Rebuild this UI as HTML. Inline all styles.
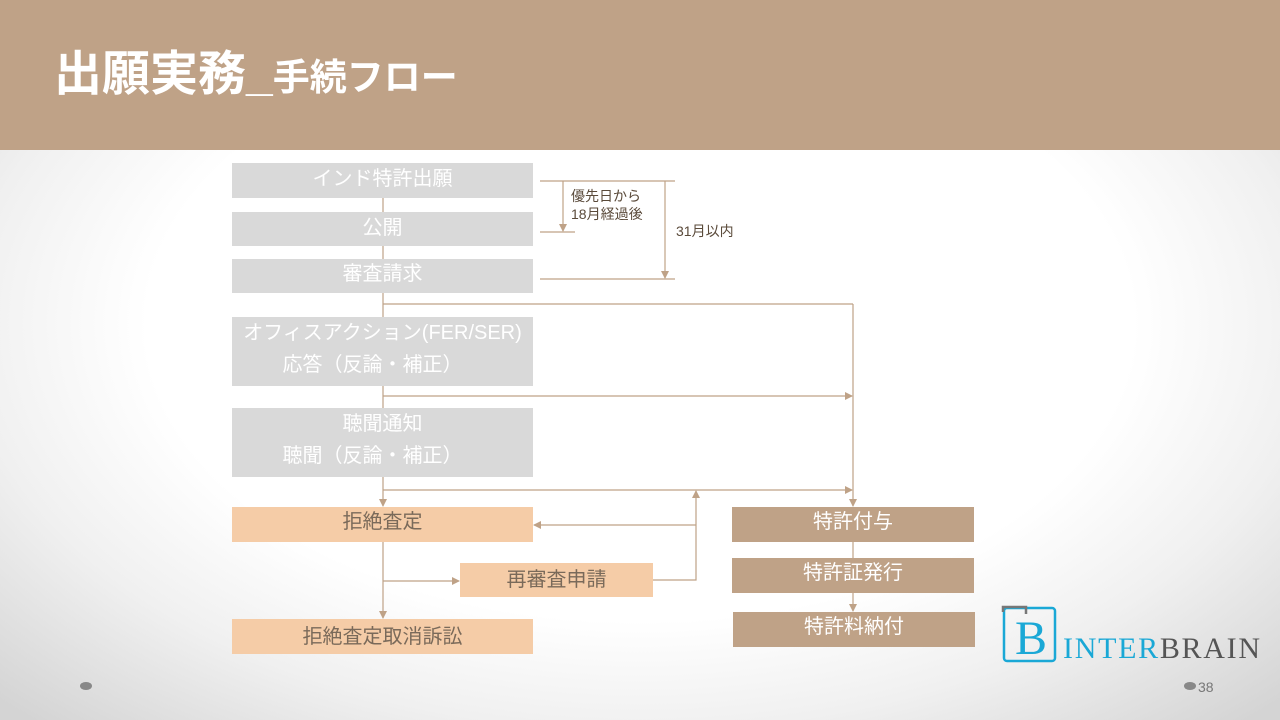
<!DOCTYPE html>
<html><head><meta charset="utf-8"><style>
body{margin:0;width:1280px;height:720px;overflow:hidden;position:relative;font-family:"Liberation Sans","Noto Sans CJK JP",sans-serif;
background:radial-gradient(ellipse 70% 75% at 50% 45%,#fff 55%,#f0f0f0 75%,#d4d4d4 100%);}
.hdr{position:absolute;left:0;top:0;width:1280px;height:150px;background:#bfa287;}
.t{position:absolute;left:54px;top:34px;color:#fff;font-weight:bold;font-size:48px;white-space:nowrap}
.t span{font-size:37px}
.b{position:absolute;display:flex;flex-direction:column;align-items:center;justify-content:center;font-size:20px;line-height:36px;color:#fff;text-align:center}
.g{background:#d9d9d9}.o{background:#f5cca7;color:#7a6a5a}.br{background:#bfa287;color:#fff}
.s{position:absolute;font-size:14px;color:#5a4a3a;line-height:18px}
</style></head><body>
<div class="hdr"></div>
<div class="t">出願実務_<span>手続フロー</span></div>
<div class="b g" style="left:232px;top:163px;width:301px;height:35px;line-height:32px;justify-content:flex-start">インド特許出願</div>
<div class="b g" style="left:232px;top:212px;width:301px;height:34px;justify-content:flex-start;line-height:32px">公開</div>
<div class="b g" style="left:232px;top:259px;width:301px;height:34px;justify-content:flex-start;line-height:30px">審査請求</div>
<div class="b g" style="left:232px;top:317px;width:301px;height:69px;justify-content:flex-start;line-height:32px"><div>オフィスアクション(FER/SER)</div><div style="margin-right:20px">応答（反論・補正）</div></div>
<div class="b g" style="left:232px;top:408px;width:301px;height:69px;justify-content:flex-start;line-height:32px"><div>聴聞通知</div><div style="margin-right:20px">聴聞（反論・補正）</div></div>
<div class="b o" style="left:232px;top:507px;width:301px;height:35px;justify-content:flex-start;line-height:30px">拒絶査定</div>
<div class="b o" style="left:460px;top:563px;width:193px;height:34px;line-height:30px">再審査申請</div>
<div class="b o" style="left:232px;top:619px;width:301px;height:35px;line-height:30px">拒絶査定取消訴訟</div>
<div class="b br" style="left:732px;top:507px;width:242px;height:35px;justify-content:flex-start;line-height:30px">特許付与</div>
<div class="b br" style="left:732px;top:558px;width:242px;height:35px;justify-content:flex-start;line-height:30px">特許証発行</div>
<div class="b br" style="left:733px;top:612px;width:242px;height:35px;justify-content:flex-start;line-height:30px">特許料納付</div>
<div class="s" style="left:571px;top:187px">優先日から<br>18月経過後</div>
<div class="s" style="left:676px;top:222px">31月以内</div>
<svg width="1280" height="720" style="position:absolute;left:0;top:0">
<defs><marker id="a" markerWidth="8" markerHeight="8" refX="7" refY="4" orient="auto" markerUnits="userSpaceOnUse"><path d="M0,0 L8,4 L0,8z" fill="#bfa287"/></marker></defs>
<g stroke="#bfa287" stroke-width="1.2" fill="none">
<line x1="383" y1="198" x2="383" y2="212"/><line x1="383" y1="246" x2="383" y2="259"/>
<line x1="383" y1="293" x2="383" y2="317"/><line x1="383" y1="386" x2="383" y2="408"/>
<line x1="383" y1="477" x2="383" y2="506" marker-end="url(#a)"/>
<line x1="383" y1="542" x2="383" y2="618" marker-end="url(#a)"/>
<line x1="383" y1="304" x2="853" y2="304"/>
<line x1="853" y1="304" x2="853" y2="506" marker-end="url(#a)"/>
<line x1="383" y1="396" x2="852" y2="396" marker-end="url(#a)"/>
<line x1="383" y1="490" x2="852" y2="490" marker-end="url(#a)"/>
<polyline points="653,580 696,580 696,491" marker-end="url(#a)"/>
<line x1="696" y1="525" x2="534" y2="525" marker-end="url(#a)"/>
<line x1="383" y1="581" x2="459" y2="581" marker-end="url(#a)"/>
<line x1="853" y1="542" x2="853" y2="558"/>
<line x1="853" y1="593" x2="853" y2="611" marker-end="url(#a)"/>
<line x1="540" y1="181" x2="675" y2="181"/><line x1="540" y1="232" x2="575" y2="232"/><line x1="540" y1="279" x2="675" y2="279"/>
<line x1="563" y1="181" x2="563" y2="231" marker-end="url(#a)"/>
<line x1="665" y1="181" x2="665" y2="278" marker-end="url(#a)"/>
</g>
<rect x="1004" y="608" width="51" height="53" rx="3" fill="none" stroke="#1aa8d6" stroke-width="2.5"/>
<path d="M1003 612 V607 H1026 V614" fill="none" stroke="#777" stroke-width="2.5"/>
<text x="1015" y="654" font-family="Liberation Serif,serif" font-size="48" fill="#1aa8d6">B</text>
<text x="1063" y="658" font-family="Liberation Serif,serif" font-size="30" fill="#1aa8d6" textLength="197" lengthAdjust="spacing">INTER<tspan fill="#555">BRAIN</tspan></text>
<ellipse cx="86" cy="686" rx="6" ry="4" fill="#888"/>
<ellipse cx="1190" cy="686" rx="6" ry="4" fill="#888"/>
<text x="1198" y="692" font-size="14" fill="#777" font-family="Liberation Sans,sans-serif">38</text>
</svg>
</body></html>
